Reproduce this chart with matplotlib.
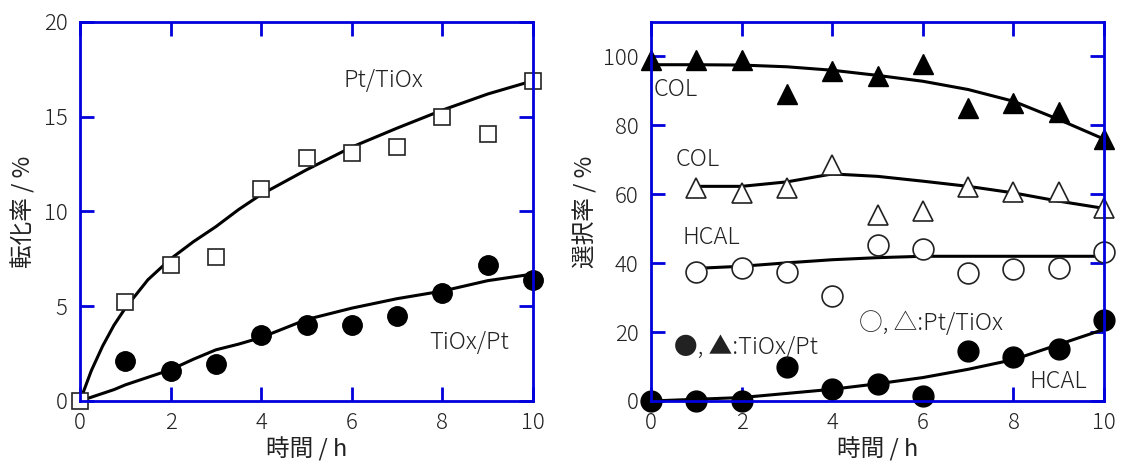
import matplotlib
matplotlib.use('Agg')
from matplotlib import pyplot as plt

plt.rcParams['font.family'] = ['Noto Sans CJK JP', 'DejaVu Sans']
plt.rcParams['font.weight'] = 'light'
plt.rcParams['axes.unicode_minus'] = False

# 左図: 転化率
hours = [0, 1, 2, 3, 4, 5, 6, 7, 8, 9, 10]
conv_pt_tiox = [0, 5.2, 7.2, 7.6, 11.2, 12.8, 13.1, 13.4, 15.0, 14.1, 16.9]
conv_tiox_pt_h = [1, 2, 3, 4, 5, 6, 7, 8, 9, 10]
conv_tiox_pt = [2.1, 1.6, 1.95, 3.5, 4.0, 4.0, 4.5, 5.7, 7.2, 6.4]

fit_h = [0, 0.25, 0.5, 0.75, 1, 1.5, 2, 2.5, 3, 3.5, 4, 5, 6, 7, 8, 9, 10]
fit_pt_tiox = [0, 1.6, 2.9, 4.0, 4.9, 6.4, 7.5, 8.4, 9.2, 10.1, 10.9, 12.2, 13.4, 14.4, 15.35, 16.2, 16.9]
fit_tiox_pt = [0, 0.2, 0.4, 0.6, 0.85, 1.25, 1.65, 2.2, 2.7, 3.0, 3.35, 4.3, 4.9, 5.4, 5.8, 6.35, 6.7]

# 右図: 選択率
col_tiox_pt = [99, 99, 99, 89, 95.8, 94.2, 97.7, 85, 86.4, 84, 76]
fit_col_tiox_pt = [97.6, 97.6, 97.5, 97.0, 96.0, 94.5, 92.8, 90.4, 87.0, 81.7, 76.0]

sel_h = [1, 2, 3, 4, 5, 6, 7, 8, 9, 10]
col_pt_tiox = [61.8, 60.4, 61.7, 68.6, 54.1, 55.0, 62.0, 60.8, 60.6, 56.0]
fit_col_pt_tiox = [62.3, 62.3, 63.6, 65.9, 65.2, 63.8, 62.3, 60.4, 58.0, 55.9]
hcal_pt_tiox = [37.5, 38.6, 37.5, 30.4, 45.2, 44.0, 37.2, 38.3, 38.6, 43.3]
fit_hcal_pt_tiox = [38.5, 39.1, 40.1, 41.0, 41.6, 42.0, 42.0, 42.0, 42.0, 42.0]

hcal_tiox_pt = [0, 0, 0, 9.9, 3.5, 5.0, 1.4, 14.5, 12.8, 15.0, 23.4]
fit_hcal_tiox_pt = [0, 0.5, 1.0, 2.2, 3.4, 5.0, 6.8, 9.2, 12.0, 16.4, 20.8]

blue = '#0000dd'
txt = '#222222'

fig = plt.figure(figsize=(11.25, 4.66), dpi=100)
ax1 = fig.add_axes([0.0711, 0.1395, 0.4027, 0.8133])
ax2 = fig.add_axes([0.5787, 0.1395, 0.4027, 0.8133])

for ax in (ax1, ax2):
    for s in ax.spines.values():
        s.set_color(blue)
        s.set_linewidth(2)
    ax.tick_params(direction='in', length=10, width=2, color=blue,
                   top=True, right=True, labelsize=16, labelcolor=txt)
    ax.tick_params(axis='x', pad=8)
    ax.tick_params(axis='y', pad=9)
    ax.set_xlim(0, 10)
    ax.set_xticks([0, 2, 4, 6, 8, 10])
    ax.set_xlabel('時間 / h', fontsize=17, color=txt, labelpad=2)

# 左
ax1.set_ylim(0, 20)
ax1.set_yticks([0, 5, 10, 15, 20])
ax1.plot(fit_h, fit_pt_tiox, color='black', lw=2.2)
ax1.plot(fit_h, fit_tiox_pt, color='black', lw=2.2)
ax1.plot(hours, conv_pt_tiox, 's', ms=12, mfc='white', mec='#222222', mew=1.2, clip_on=False)
ax1.plot(conv_tiox_pt_h, conv_tiox_pt, 'o', ms=14, color='black', clip_on=False)
ax1.set_ylabel('転化率 / %', fontsize=17, color=txt, labelpad=6)
ax1.text(6.7, 16.9, 'Pt/TiOx', fontsize=17, color=txt, ha='center', va='center')
ax1.text(8.6, 3.1, 'TiOx/Pt', fontsize=17, color=txt, ha='center', va='center')

# 右
ax2.set_ylim(0, 110)
ax2.set_yticks([0, 20, 40, 60, 80, 100])
ax2.plot(hours, fit_col_tiox_pt, color='black', lw=2.2)
ax2.plot(sel_h, fit_col_pt_tiox, color='black', lw=2.2)
ax2.plot(sel_h, fit_hcal_pt_tiox, color='black', lw=2.2)
ax2.plot(hours, fit_hcal_tiox_pt, color='black', lw=2.2)
ax2.plot(hours, col_tiox_pt, '^', ms=15, color='black', clip_on=False)
ax2.plot(sel_h, col_pt_tiox, '^', ms=15, mfc='white', mec='#222222', mew=1.2, clip_on=False)
ax2.plot(sel_h, hcal_pt_tiox, 'o', ms=15, mfc='white', mec='#222222', mew=1.2, clip_on=False)
ax2.plot(hours, hcal_tiox_pt, 'o', ms=15, color='black', clip_on=False)
ax2.set_ylabel('選択率 / %', fontsize=17, color=txt, labelpad=4)

ax2.text(0.05, 90.5, 'COL', fontsize=17, color=txt, ha='left', va='center')
ax2.text(0.55, 70.0, 'COL', fontsize=17, color=txt, ha='left', va='center')
ax2.text(0.7, 47.5, 'HCAL', fontsize=17, color=txt, ha='left', va='center')
ax2.text(9.0, 5.8, 'HCAL', fontsize=17, color=txt, ha='center', va='center')
ax2.text(4.6, 22.4, '○, △:Pt/TiOx', fontsize=17, color=txt, ha='left', va='center')
ax2.text(0.5, 15.4, '●, ▲:TiOx/Pt', fontsize=17, color=txt, ha='left', va='center')

fig.savefig('out.png', dpi=100)
